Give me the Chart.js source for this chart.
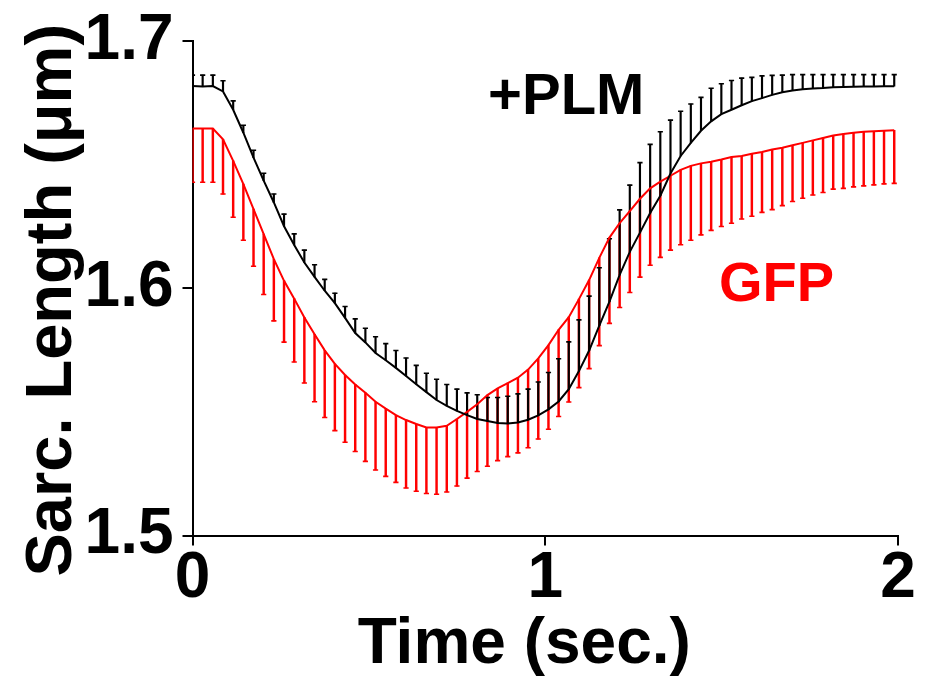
<!DOCTYPE html>
<html>
<head>
<meta charset="utf-8">
<title>Sarcomere shortening: +PLM vs GFP</title>
<script src="https://cdn.jsdelivr.net/npm/chart.js@4/dist/chart.umd.min.js"></script>
<style>
  html, body { margin: 0; padding: 0; background: #fff; }
  #wrap { width: 930px; height: 686px; }
</style>
</head>
<body>
<div id="wrap"><canvas id="chart" width="930" height="686"></canvas></div>
<script>
// Sample times (s) of the averaged sarcomere-length transients
const timeSec = [
  0.0000, 0.0288, 0.0577, 0.0865, 0.1153, 0.1442, 0.1730, 0.2018, 0.2306, 0.2595,
  0.2883, 0.3171, 0.3460, 0.3748, 0.4036, 0.4325, 0.4613, 0.4901, 0.5189, 0.5478,
  0.5766, 0.6054, 0.6343, 0.6631, 0.6919, 0.7208, 0.7496, 0.7784, 0.8072, 0.8361,
  0.8649, 0.8937, 0.9226, 0.9514, 0.9802, 1.0091, 1.0379, 1.0667, 1.0955, 1.1244,
  1.1532, 1.1820, 1.2109, 1.2397, 1.2685, 1.2974, 1.3262, 1.3550, 1.3838, 1.4127,
  1.4415, 1.4703, 1.4992, 1.5280, 1.5568, 1.5857, 1.6145, 1.6433, 1.6721, 1.7010,
  1.7298, 1.7586, 1.7875, 1.8163, 1.8451, 1.8740, 1.9028, 1.9316, 1.9604, 1.9893
];

// +PLM: mean sarcomere length (µm) and SEM
const plmMean = [
  1.6818, 1.6816, 1.6818, 1.6796, 1.6722, 1.6629, 1.6528, 1.6435, 1.6347, 1.6251,
  1.6175, 1.6104, 1.6046, 1.5990, 1.5940, 1.5880, 1.5819, 1.5781, 1.5738, 1.5709,
  1.5678, 1.5645, 1.5612, 1.5580, 1.5548, 1.5524, 1.5504, 1.5487, 1.5471, 1.5463,
  1.5455, 1.5453, 1.5457, 1.5468, 1.5486, 1.5510, 1.5542, 1.5592, 1.5665, 1.5748,
  1.5849, 1.5946, 1.6054, 1.6147, 1.6225, 1.6304, 1.6374, 1.6464, 1.6535, 1.6588,
  1.6637, 1.6675, 1.6704, 1.6722, 1.6740, 1.6757, 1.6769, 1.6782, 1.6793, 1.6800,
  1.6805, 1.6808, 1.6810, 1.6813, 1.6814, 1.6815, 1.6816, 1.6816, 1.6817, 1.6817
];
const plmSem = [
  0.0044, 0.0046, 0.0044, 0.0043, 0.0036, 0.0030, 0.0030, 0.0030, 0.0034, 0.0049,
  0.0045, 0.0050, 0.0049, 0.0046, 0.0040, 0.0046, 0.0057, 0.0057, 0.0066, 0.0067,
  0.0070, 0.0073, 0.0076, 0.0076, 0.0084, 0.0087, 0.0088, 0.0090, 0.0098, 0.0095,
  0.0103, 0.0110, 0.0116, 0.0124, 0.0135, 0.0149, 0.0173, 0.0191, 0.0207, 0.0220,
  0.0234, 0.0254, 0.0263, 0.0270, 0.0283, 0.0278, 0.0259, 0.0216, 0.0181, 0.0157,
  0.0135, 0.0134, 0.0123, 0.0118, 0.0110, 0.0096, 0.0090, 0.0079, 0.0069, 0.0064,
  0.0059, 0.0056, 0.0054, 0.0051, 0.0050, 0.0049, 0.0048, 0.0048, 0.0047, 0.0047
];

// GFP: mean sarcomere length (µm) and SEM
const gfpMean = [
  1.6646, 1.6646, 1.6646, 1.6602, 1.6515, 1.6421, 1.6320, 1.6219, 1.6118, 1.6030,
  1.5958, 1.5882, 1.5814, 1.5749, 1.5694, 1.5649, 1.5611, 1.5577, 1.5541, 1.5513,
  1.5487, 1.5467, 1.5451, 1.5437, 1.5437, 1.5444, 1.5471, 1.5500, 1.5531, 1.5568,
  1.5595, 1.5616, 1.5638, 1.5671, 1.5716, 1.5770, 1.5832, 1.5883, 1.5956, 1.6033,
  1.6123, 1.6205, 1.6263, 1.6312, 1.6362, 1.6404, 1.6431, 1.6455, 1.6479, 1.6495,
  1.6505, 1.6512, 1.6521, 1.6531, 1.6535, 1.6544, 1.6551, 1.6561, 1.6568, 1.6578,
  1.6588, 1.6598, 1.6608, 1.6618, 1.6624, 1.6629, 1.6633, 1.6635, 1.6637, 1.6639
];
const gfpSem = [
  0.0217, 0.0217, 0.0217, 0.0221, 0.0228, 0.0227, 0.0231, 0.0244, 0.0250, 0.0248,
  0.0256, 0.0265, 0.0273, 0.0272, 0.0270, 0.0272, 0.0271, 0.0277, 0.0276, 0.0274,
  0.0272, 0.0275, 0.0272, 0.0267, 0.0270, 0.0268, 0.0271, 0.0268, 0.0272, 0.0288,
  0.0292, 0.0297, 0.0304, 0.0316, 0.0326, 0.0340, 0.0351, 0.0343, 0.0358, 0.0358,
  0.0355, 0.0347, 0.0341, 0.0329, 0.0317, 0.0311, 0.0306, 0.0301, 0.0303, 0.0301,
  0.0289, 0.0278, 0.0271, 0.0268, 0.0255, 0.0253, 0.0244, 0.0243, 0.0234, 0.0227,
  0.0224, 0.0221, 0.0221, 0.0217, 0.0220, 0.0219, 0.0219, 0.0217, 0.0215, 0.0215
];

// Axis ticks and labels
const xTickValues = [0, 1, 2];
const xTickLabels = ['0', '1', '2'];
const yTickValues = [1.5, 1.6, 1.7];
const yTickLabels = ['1.5', '1.6', '1.7'];
const xTitle = 'Time (sec.)';
const yTitle = 'Sarc. Length (\u03BCm)';
const seriesNames = ['+PLM', 'GFP'];

const FONT = '"Liberation Sans", Arial, Helvetica, sans-serif';
const BLACK = '#000000';
const RED = '#ff0000';

// Build point lists from the arrays above
const pts = (ys) => timeSec.map((t, i) => ({ x: t, y: ys[i] }));
const plmLine = pts(plmMean);
const gfpLine = pts(gfpMean);
// +PLM bars point up, GFP bars point down
const plmStem = timeSec.map((t, i) => ({ x: t, y: [plmMean[i], plmMean[i] + plmSem[i]] }));
const gfpStem = timeSec.map((t, i) => ({ x: t, y: [gfpMean[i] - gfpSem[i], gfpMean[i]] }));
const plmCap = timeSec.map((t, i) => ({ x: t, y: plmMean[i] + plmSem[i] }));
const gfpCap = timeSec.map((t, i) => ({ x: t, y: gfpMean[i] - gfpSem[i] }));

// Axis titles and in-plot series names
const figureText = {
  id: 'figureText',
  afterDraw(chart) {
    const { ctx, chartArea, scales } = chart;
    ctx.save();
    ctx.textBaseline = 'alphabetic';

    ctx.fillStyle = BLACK;
    ctx.font = 'bold 64px ' + FONT;
    ctx.textAlign = 'center';
    ctx.fillText(xTitle, (chartArea.left + chartArea.right) / 2 - 21, chartArea.bottom + 127.5);

    ctx.save();
    ctx.font = 'bold 65px ' + FONT;
    ctx.translate(chartArea.left - 122, (chartArea.top + chartArea.bottom) / 2 + 12);
    ctx.rotate(-Math.PI / 2);
    ctx.fillText(yTitle, 0, 0);
    ctx.restore();

    ctx.textAlign = 'left';
    ctx.font = 'bold 58px ' + FONT;
    ctx.fillStyle = BLACK;
    ctx.fillText(seriesNames[0], scales.x.getPixelForValue(0.838), scales.y.getPixelForValue(1.6706));
    ctx.font = 'bold 56px ' + FONT;
    ctx.fillStyle = RED;
    ctx.fillText(seriesNames[1], scales.x.getPixelForValue(1.4926), scales.y.getPixelForValue(1.595));
    ctx.restore();
  }
};

const axisCommon = {
  grid: { display: true, drawOnChartArea: false, drawTicks: true, tickLength: 10, color: BLACK, lineWidth: 2, offset: false },
  border: { display: true, color: BLACK, width: 2 },
};

new Chart(document.getElementById('chart'), {
  type: 'line',
  data: {
    datasets: [
      { type: 'line', label: seriesNames[0], data: plmLine, borderColor: BLACK, borderWidth: 2,
        pointRadius: 0, tension: 0, fill: false, order: 1 },
      { type: 'line', label: seriesNames[1], data: gfpLine, borderColor: RED, borderWidth: 2,
        pointRadius: 0, tension: 0, fill: false, order: 2 },
      { type: 'bar', label: 'PLM SEM', data: plmStem, backgroundColor: BLACK, borderWidth: 0,
        barThickness: 1.5, grouped: false, order: 3 },
      { type: 'line', label: 'PLM SEM cap', data: plmCap, showLine: false, pointStyle: 'line',
        pointRadius: 2.6, pointBorderWidth: 1.6, borderColor: BLACK, pointBorderColor: BLACK, order: 3 },
      { type: 'bar', label: 'GFP SEM', data: gfpStem, backgroundColor: RED, borderWidth: 0,
        barThickness: 1.8, grouped: false, order: 4 },
      { type: 'line', label: 'GFP SEM cap', data: gfpCap, showLine: false, pointStyle: 'line',
        pointRadius: 2.6, pointBorderWidth: 1.6, borderColor: RED, pointBorderColor: RED, order: 4 }
    ]
  },
  options: {
    responsive: false,
    animation: false,
    events: [],
    layout: { padding: { top: 37.5, right: 32, left: 0, bottom: 0 } },
    plugins: { legend: { display: false }, tooltip: { enabled: false }, title: { display: false } },
    scales: {
      x: Object.assign({}, axisCommon, {
        type: 'linear', min: 0, max: 2, offset: false,
        afterBuildTicks: (s) => { s.ticks = xTickValues.map(v => ({ value: v })); },
        afterFit: (s) => { s.height = 150.5; },
        ticks: {
          color: BLACK, padding: 2, maxRotation: 0, autoSkip: false,
          font: { family: FONT, size: 64, weight: 'bold', lineHeight: 1 },
          callback: (v) => xTickLabels[xTickValues.indexOf(v)]
        },
        title: { display: false }
      }),
      y: Object.assign({}, axisCommon, {
        type: 'linear', min: 1.5, max: 1.7,
        afterBuildTicks: (s) => { s.ticks = yTickValues.map(v => ({ value: v })); },
        afterFit: (s) => { s.width = 192.5; },
        ticks: {
          color: BLACK, padding: 9, autoSkip: false,
          font: { family: FONT, size: 64, weight: 'bold', lineHeight: 1 },
          callback: (v) => yTickLabels[yTickValues.indexOf(v)]
        },
        title: { display: false }
      })
    }
  },
  plugins: [figureText]
});
</script>
</body>
</html>
